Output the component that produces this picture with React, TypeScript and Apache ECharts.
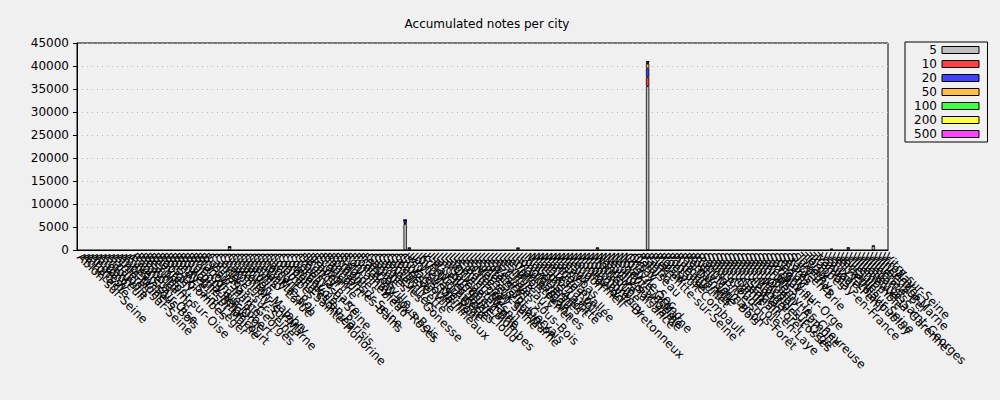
import React, { useEffect, useRef } from "react";
import * as echarts from "echarts";

const cities = [
  "Ablon-sur-Seine", "Achères", "Alfortville", "Andrésy", "Antony", "Argenteuil", "Arnouville", "Arpajon",
  "Asnières-sur-Seine", "Athis-Mons", "Aubervilliers", "Aulnay-sous-Bois", "Auvers-sur-Oise",
  "Bagneux", "Bagnolet", "Beauchamp", "Beaumont-sur-Oise", "Bezons", "Bièvres", "Bobigny", "Bois-Colombes",
  "Boissy-Saint-Léger", "Bondy", "Bonneuil-sur-Marne", "Boulogne-Billancourt", "Bourg-la-Reine",
  "Brétigny-sur-Orge", "Brie-Comte-Robert", "Brunoy", "Bry-sur-Marne", "Bussy-Saint-Georges",
  "Cachan", "Carrières-sur-Seine", "Cergy", "Champigny-sur-Marne", "Charenton-le-Pont", "Châtenay-Malabry",
  "Châtillon", "Chatou", "Chaville", "Chelles", "Chevilly-Larue", "Chilly-Mazarin", "Choisy-le-Roi",
  "Clamart", "Clichy", "Colombes", "Conflans-Sainte-Honorine", "Corbeil-Essonnes", "Cormeilles-en-Parisis",
  "Courbevoie", "Créteil", "Croissy-sur-Seine", "Deuil-la-Barre", "Drancy", "Draveil", "Eaubonne", "Écouen",
  "Élancourt", "Enghien-les-Bains", "Épinay-sur-Seine", "Ermont", "Étampes", "Évry", "Fontainebleau",
  "Fontenay-aux-Roses", "Fontenay-sous-Bois", "Franconville", "Fresnes", "Gagny", "Garches",
  "Garges-lès-Gonesse", "Gennevilliers", "Gentilly", "Gif-sur-Yvette", "Gonesse", "Goussainville",
  "Guyancourt", "Issy-les-Moulineaux", "Ivry-sur-Seine", "Joinville-le-Pont", "Juvisy-sur-Orge",
  "Kremlin-Bicêtre", "L'Haÿ-les-Roses", "La Celle-Saint-Cloud", "La Courneuve", "La Garenne-Colombes",
  "La Queue-en-Brie", "Lagny-sur-Marne", "Le Blanc-Mesnil", "Le Bourget", "Le Chesnay", "Le Mée-sur-Seine",
  "Le Perreux-sur-Marne", "Le Plessis-Robinson", "Le Pré-Saint-Gervais", "Le Raincy", "Le Vésinet",
  "Les Clayes-sous-Bois", "Les Lilas", "Les Mureaux", "Les Ulis", "Levallois-Perret", "Limeil-Brévannes",
  "Livry-Gargan", "Longjumeau", "Louveciennes", "Maisons-Alfort", "Maisons-Laffitte", "Malakoff",
  "Mantes-la-Jolie", "Marly-le-Roi", "Marne-la-Vallée", "Massy", "Maurepas", "Meaux", "Melun", "Meudon",
  "Montfermeil", "Montgeron", "Montigny-le-Bretonneux", "Montmorency", "Montreuil", "Montrouge",
  "Nanterre", "Neuilly-Plaisance", "Neuilly-sur-Marne", "Neuilly-sur-Seine", "Nogent-sur-Marne",
  "Noisy-le-Grand", "Noisy-le-Sec", "Orly", "Orsay", "Osny", "Palaiseau", "Pantin", "Paris",
  "Pierrefitte-sur-Seine", "Plaisir", "Poissy", "Pontault-Combault", "Pontoise", "Puteaux", "Rambouillet",
  "Ris-Orangis", "Romainville", "Rosny-sous-Bois", "Rueil-Malmaison", "Rungis", "Saint-Brice-sous-Forêt",
  "Saint-Cloud", "Saint-Cyr-l'École", "Saint-Denis", "Saint-Germain-en-Laye", "Saint-Gratien",
  "Saint-Leu-la-Forêt", "Saint-Mandé", "Saint-Maur-des-Fossés", "Saint-Michel-sur-Orge", "Saint-Ouen",
  "Saint-Ouen-l'Aumône", "Saint-Rémy-lès-Chevreuse", "Sannois", "Sarcelles", "Sartrouville",
  "Savigny-sur-Orge", "Sceaux", "Sevran", "Sèvres", "Stains", "Sucy-en-Brie", "Suresnes", "Taverny",
  "Thiais", "Torcy", "Trappes", "Tremblay-en-France", "Vanves", "Vaujours", "Vaux-le-Pénil",
  "Vélizy-Villacoublay", "Verneuil-sur-Seine", "Versailles", "Villejuif", "Villemomble",
  "Villeneuve-la-Garenne", "Villeneuve-Saint-Georges", "Villeparisis", "Villepinte", "Villiers-le-Bel",
  "Villiers-sur-Marne", "Vincennes", "Viroflay", "Vitry-sur-Seine",
];

// Cities with non-negligible counts, and counts per denomination (same order)
const activeCities = [
  "Châtenay-Malabry", "Issy-les-Moulineaux", "Ivry-sur-Seine", "Longjumeau", "Nanterre",
  "Paris", "Vélizy-Villacoublay", "Villemomble", "Villiers-sur-Marne",
];
const notes5 = [600, 5650, 420, 400, 420, 35600, 120, 450, 850];
const notes10 = [50, 200, 40, 50, 40, 1950, 150, 50, 80];
const notes20 = [30, 550, 0, 0, 0, 1950, 0, 0, 0];
const notes50 = [0, 60, 0, 0, 0, 1000, 0, 0, 0];
const notes100 = [0, 20, 0, 0, 0, 150, 0, 0, 0];
const notes200 = [0, 20, 0, 0, 0, 300, 0, 0, 0];
const notes500 = [0, 0, 0, 0, 0, 50, 0, 0, 0];

const denominations = ["5", "10", "20", "50", "100", "200", "500"];
const denomValues = [notes5, notes10, notes20, notes50, notes100, notes200, notes500];
const denomColors = ["#bfbfbf", "#ff4040", "#4040ff", "#ffbf40", "#40ff40", "#ffff40", "#ff40ff"];

const yTicksMax = 45000;
const yTickStep = 5000;

const FONT = "DejaVu Sans";

export default function App() {
  const ref = useRef<HTMLDivElement>(null);

  useEffect(() => {
    if (!ref.current) return;
    const chart = echarts.init(ref.current, undefined, { renderer: "svg" });

    const series = denominations.map((d, k) => ({
      name: d,
      type: "bar",
      stack: "total",
      barWidth: "80%",
      itemStyle: { color: denomColors[k], borderColor: "#000", borderWidth: 0.8 },
      data: cities.map((c) => {
        const i = activeCities.indexOf(c);
        const v = i >= 0 ? denomValues[k][i] : 0;
        return v > 0 ? v : null;
      }),
    }));

    chart.setOption({
      animation: false,
      backgroundColor: "#f0f0f0",
      textStyle: { fontFamily: FONT },
      title: {
        text: "Accumulated notes per city",
        left: 482,
        top: 13,
        textAlign: "center",
        textStyle: { fontFamily: FONT, fontSize: 12, fontWeight: "normal", color: "#000" },
      },
      legend: {
        orient: "vertical",
        left: 905,
        top: 42,
        align: "right",
        itemWidth: 37,
        itemHeight: 7,
        itemGap: 2,
        padding: [2, 8, 2, 6],
        borderColor: "#000",
        borderWidth: 1,
        backgroundColor: "#f0f0f0",
        borderRadius: 0,
        icon: "rect",
        itemStyle: { borderColor: "#000", borderWidth: 1 },
        formatter: "{a|{name}}",
        textStyle: {
          fontFamily: FONT,
          fontSize: 12,
          color: "#000",
          rich: { a: { width: 26, align: "right", fontSize: 12, lineHeight: 12, fontFamily: FONT, color: "#000" } },
        },
        data: denominations,
      },
      grid: {
        left: 77,
        right: 112,
        top: 43,
        bottom: 150,
        show: true,
        borderColor: "#000",
        borderWidth: 1,
        backgroundColor: "#f0f0f0",
        outerBoundsMode: "none",
      },
      xAxis: {
        type: "category",
        data: cities,
        boundaryGap: true,
        axisLine: { show: true, lineStyle: { color: "#000", width: 1 } },
        axisTick: { show: false },
        axisLabel: {
          interval: 0,
          rotate: -45,
          margin: 5,
          fontFamily: FONT,
          fontSize: 12,
          color: "#000",
        },
      },
      yAxis: {
        type: "value",
        min: 0,
        max: yTicksMax,
        interval: yTickStep,
        axisLine: { show: true, lineStyle: { color: "#000", width: 1 } },
        axisTick: { show: true, length: 4, lineStyle: { color: "#000" } },
        axisLabel: {
          margin: 8,
          fontFamily: FONT,
          fontSize: 12,
          color: "#000",
          formatter: (v: number) => String(v),
        },
        splitLine: { show: true, lineStyle: { type: [1, 4], color: "#b8b8b8", width: 1 } },
      },
      series,
    });

    return () => chart.dispose();
  }, []);

  return (
    <div
      ref={ref}
      style={{ position: "fixed", left: 0, top: 0, width: 1000, height: 400, background: "#f0f0f0" }}
    />
  );
}
